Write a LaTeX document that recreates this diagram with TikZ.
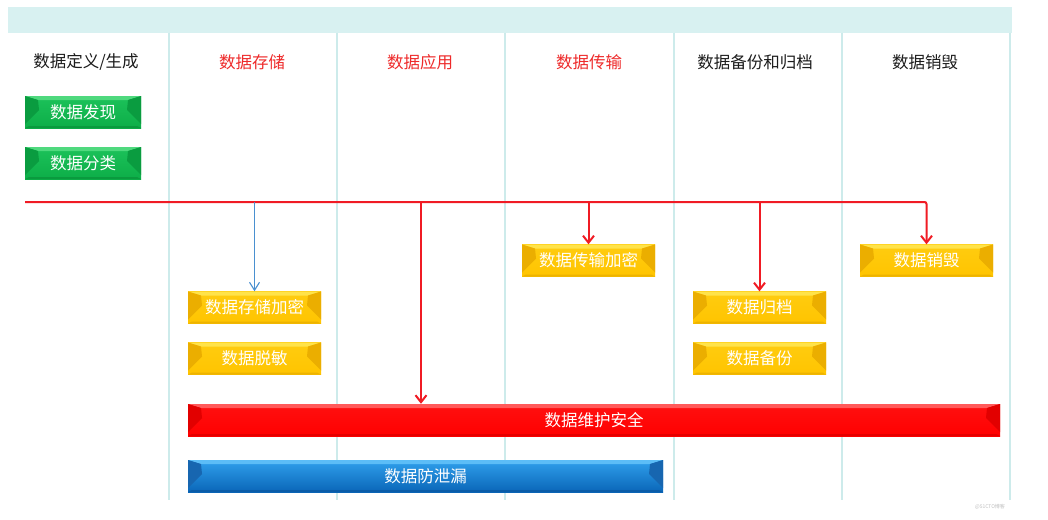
\documentclass[tikz,border=0pt]{standalone}
\usepackage{fontspec}
\newfontfamily\cjk{Noto Sans CJK SC}
\usetikzlibrary{arrows.meta}
\definecolor{bandc}{HTML}{D8F1F1}
\definecolor{sepc}{HTML}{CDEBEB}
\definecolor{linered}{HTML}{F01B24}
\definecolor{lineblue}{HTML}{4A90D0}
\definecolor{hdrred}{HTML}{EE2A2A}
\definecolor{hdrblack}{HTML}{1C1C1C}
% green
\definecolor{gmain}{HTML}{0DAE48}\definecolor{gtop}{HTML}{4FD97E}\definecolor{gbot}{HTML}{0A9A3E}\definecolor{gside}{HTML}{0A9C40}\definecolor{gmaint}{HTML}{1CC25A}
% yellow
\definecolor{ymain}{HTML}{FFC400}\definecolor{ytop}{HTML}{FFE34A}\definecolor{ybot}{HTML}{EDB300}\definecolor{yside}{HTML}{EBAE00}\definecolor{ymaint}{HTML}{FFCC10}
% red
\definecolor{rmain}{HTML}{FF0000}\definecolor{rtop}{HTML}{FF5A5A}\definecolor{rbot}{HTML}{E40000}\definecolor{rside}{HTML}{E20000}\definecolor{rmaint}{HTML}{FF1010}
% blue
\definecolor{bmain}{HTML}{0A66B8}\definecolor{btop}{HTML}{5CBDF7}\definecolor{bbot}{HTML}{0A5CA8}\definecolor{bside}{HTML}{1766B0}\definecolor{bmaint}{HTML}{30A0EC}
\tikzset{
  hdr/.style={font=\cjk\fontsize{16.5}{18}\selectfont, anchor=center, inner sep=0pt},
  bevelbox/.style n args={5}{%
    top color=#5, bottom color=#1, draw=none, text=white,
    font=\cjk\fontsize{16.5}{18}\selectfont,
    minimum height=32pt, inner sep=0pt, anchor=center,
    path picture={
      \fill[#2] (path picture bounding box.north west) -- (path picture bounding box.north east)
        -- ([xshift=-13pt,yshift=-4pt]path picture bounding box.north east)
        -- ([xshift=13pt,yshift=-4pt]path picture bounding box.north west) -- cycle;
      \fill[#3] (path picture bounding box.south west) -- (path picture bounding box.south east)
        -- ([xshift=-4pt,yshift=2pt]path picture bounding box.south east)
        -- ([xshift=4pt,yshift=2pt]path picture bounding box.south west) -- cycle;
      \fill[#4] (path picture bounding box.north west)
        -- ([xshift=13pt,yshift=-4pt]path picture bounding box.north west)
        -- ([xshift=14pt,yshift=-14pt]path picture bounding box.north west)
        -- ([yshift=4pt]path picture bounding box.south west) -- cycle;
      \fill[#4] (path picture bounding box.north east)
        -- ([xshift=-13pt,yshift=-4pt]path picture bounding box.north east)
        -- ([xshift=-14pt,yshift=-14pt]path picture bounding box.north east)
        -- ([yshift=4pt]path picture bounding box.south east) -- cycle;
    }},
  greenbox/.style={bevelbox={gmain}{gtop}{gbot}{gside}{gmaint}, minimum width=116pt},
  yellowbox/.style={bevelbox={ymain}{ytop}{ybot}{yside}{ymaint}, minimum width=133pt},
  redbar/.style={bevelbox={rmain}{rtop}{rbot}{rside}{rmaint}},
  bluebar/.style={bevelbox={bmain}{btop}{bbot}{bside}{bmaint}},
  sep/.style={draw=sepc, line width=1.4pt},
  redline/.style={draw=linered, line width=2pt},
  redarrow/.style={redline, -{Straight Barb[length=7pt,width=11pt,line width=2pt]}},
  bluearrow/.style={draw=lineblue, line width=1.1pt, -{Straight Barb[length=8pt,width=10pt,line width=1.1pt]}},
}
\begin{document}
\begin{tikzpicture}[x=1pt,y=-1pt]
\useasboundingbox[fill=white] (0,0) rectangle (1048,519);
% top band
\fill[bandc] (8,7) rectangle (1012,33);
% column separators
\foreach \xx in {169,337,505,674,842,1010}{
  \draw[sep] (\xx,33) -- (\xx,500);
}
% headers
\node[hdr,text=hdrblack] (h1) at (86,62) {数据定义/生成};
\node[hdr,text=hdrred]   (h2) at (252,62) {数据存储};
\node[hdr,text=hdrred]   (h3) at (420,62) {数据应用};
\node[hdr,text=hdrred]   (h4) at (589,62) {数据传输};
\node[hdr,text=hdrblack] (h5) at (755,62) {数据备份和归档};
\node[hdr,text=hdrblack] (h6) at (925,62) {数据销毁};
% green boxes
\node[greenbox] (fx) at (83,112) {数据发现};
\node[greenbox] (fl) at (83,163) {数据分类};
% yellow boxes
\node[yellowbox] (ccjm) at (254.5,307.5) {数据存储加密};
\node[yellowbox] (tm)   at (254.5,358.5) {数据脱敏};
\node[yellowbox] (csjm) at (588.5,260.5) {数据传输加密};
\node[yellowbox] (gd)   at (759.5,307.5) {数据归档};
\node[yellowbox] (bf)   at (759.5,358.5) {数据备份};
\node[yellowbox] (xh)   at (926.5,260.5) {数据销毁};
% bars
\node[redbar, minimum width=812pt] (wh) at (594,420) {数据维护安全};
\node[bluebar, minimum width=475pt] (fxl) at (425.5,476) {数据防泄漏};
% main red line
\coordinate (ms) at (25,202);
\coordinate (mj) at (421,202);
\draw[redarrow, rounded corners=2pt] (ms) -| (xh.north);
\draw[bluearrow] (ccjm.north |- ms) -- (ccjm.north);
\draw[redarrow] (mj) -- (mj |- wh.north);
\draw[redarrow] (csjm.north |- ms) -- (csjm.north);
\draw[redarrow] (gd.north |- ms) -- (gd.north);
% watermark
\node[font=\cjk\fontsize{5}{6}\selectfont, text=black!25, inner sep=0pt] (wm) at (990,507) {@51CTO博客};
\end{tikzpicture}
\end{document}
